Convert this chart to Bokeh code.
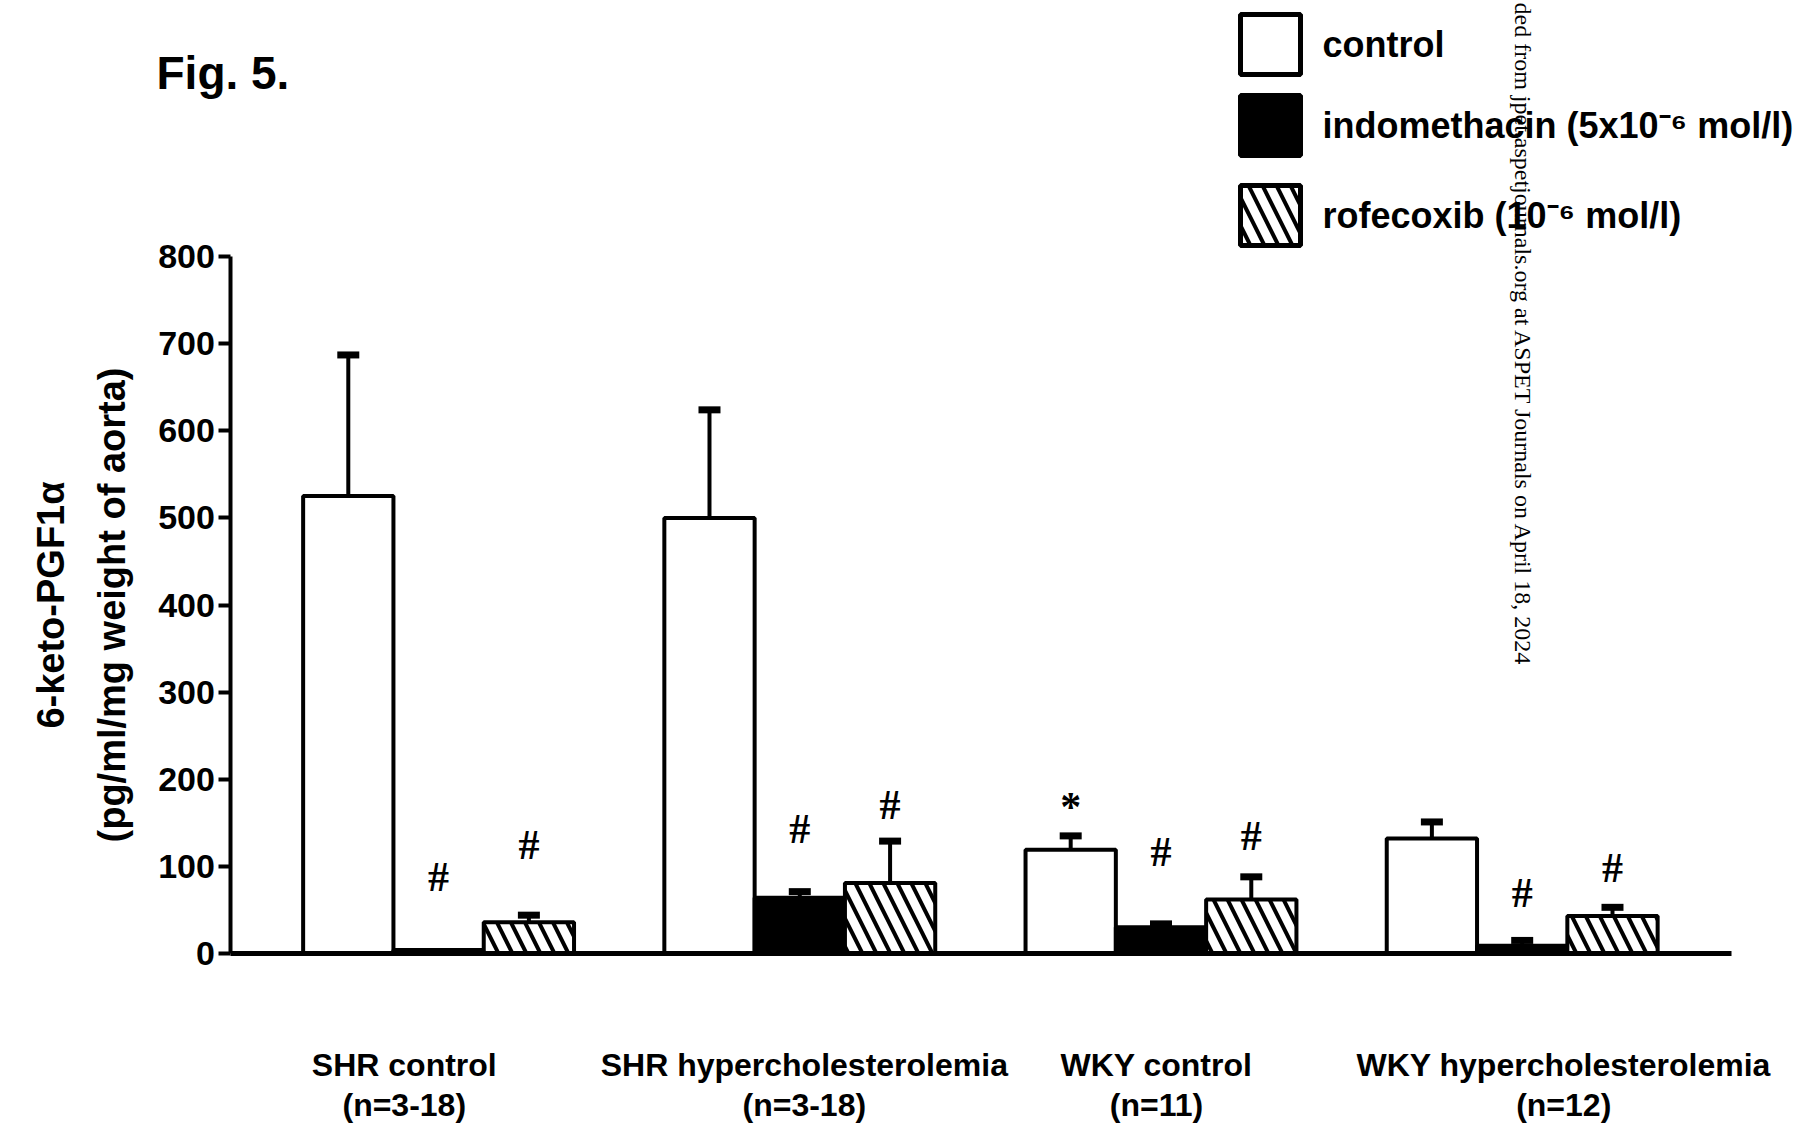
import math
from bokeh.plotting import figure
from bokeh.models import ColumnDataSource, Range1d, FixedTicker, Whisker, TeeHead
from bokeh.core.properties import value
from bokeh.embed import file_html
from bokeh.resources import INLINE

# ---------------- data ----------------
groups = ["SHR control", "SHR hypercholesterolemia", "WKY control", "WKY hypercholesterolemia"]
group_n = ["(n=3-18)", "(n=3-18)", "(n=11)", "(n=12)"]
series = ["control", "indomethacin (5x10⁻⁶ mol/l)", "rofecoxib (10⁻⁶ mol/l)"]

control_mean = [525, 500, 119, 132]
control_sem = [162, 124, 16, 19]
indo_mean = [4, 64, 30, 9]
indo_sem = [0, 7, 4, 6]
rofe_mean = [36, 81, 62, 43]
rofe_sem = [8, 48, 26, 10]

# significance marks: (group index, series index, symbol, height of mark)
sig_group = [0, 0, 1, 1, 2, 2, 2, 3, 3]
sig_series = [1, 2, 1, 2, 0, 1, 2, 1, 2]
sig_text = ["#", "#", "#", "#", "*", "#", "#", "#", "#"]
sig_y = [88, 124, 143, 170, 168, 116, 135, 70, 98]

y_ticks = [0, 100, 200, 300, 400, 500, 600, 700, 800]

watermark = "ded from jpet.aspetjournals.org at ASPET Journals on April 18, 2024"

# ---------------- layout helpers ----------------
W, H = 1816, 1132
X0_PX = 230.4          # screen x of the value axis
PX_PER_X = 90.3        # one bar width in pixels
Y0_PX = 953.0          # screen y of value 0
PX_PER_Y = 697.0 / 800.0


def xd(px):
    return (px - X0_PX) / PX_PER_X


def yd(py):
    return (Y0_PX - py) / PX_PER_Y


FIRST = 0.8      # left edge of first bar (in bar widths)
GROUP_STEP = 4   # group spacing (in bar widths)


def bar_x(g, s):
    return FIRST + GROUP_STEP * g + s + 0.5


FONT = value("Liberation Sans")

p = figure(width=W, height=H, output_backend="svg", toolbar_location=None, tools="",
           x_range=Range1d(xd(0), xd(W)), y_range=Range1d(yd(H), yd(0)),
           min_border=0, min_border_left=0, min_border_right=0,
           min_border_top=0, min_border_bottom=0)
p.outline_line_color = None
p.grid.visible = False
p.background_fill_color = "white"
p.border_fill_color = "white"

# ---------------- axes ----------------
ya = p.yaxis[0]
ya.fixed_location = 0
ya.bounds = (0, 800)
ya.ticker = FixedTicker(ticks=y_ticks)
ya.axis_line_width = 4
ya.axis_line_color = "black"
ya.major_tick_line_width = 4
ya.major_tick_out = 12
ya.major_tick_in = 0
ya.minor_tick_line_color = None
ya.major_label_standoff = 4
ya.major_label_text_font = "Liberation Sans"
ya.major_label_text_font_style = "bold"
ya.major_label_text_font_size = "34px"
ya.major_label_text_color = "black"
ya.axis_label = "6-keto-PGF1α\n(pg/ml/mg weight of aorta)"
ya.axis_label_text_font = "Liberation Sans"
ya.axis_label_text_font_style = "bold"
ya.axis_label_text_font_size = "38px"
ya.axis_label_text_color = "black"
ya.axis_label_text_line_height = 1.45
ya.axis_label_standoff = 22

xa = p.xaxis[0]
xa.fixed_location = 0
xa.bounds = (0, xd(1731))
xa.ticker = FixedTicker(ticks=[])
xa.axis_line_width = 5
xa.axis_line_color = "black"
xa.major_tick_line_color = None
xa.minor_tick_line_color = None

# ---------------- bars ----------------
means = [control_mean, indo_mean, rofe_mean]
sems = [control_sem, indo_sem, rofe_sem]
fills = ["white", "black", "white"]
hatches = [None, None, "\\"]
HATCH = dict(hatch_color="black", hatch_weight=4, hatch_scale=28)

wb, wl, wu = [], [], []
for s in range(3):
    xs = [bar_x(g, s) for g in range(len(groups))]
    src = ColumnDataSource(dict(x=xs, top=means[s]))
    kw = dict(x="x", top="top", bottom=0, width=1.0, source=src,
              fill_color=fills[s], line_color="black", line_width=4)
    if hatches[s]:
        kw.update(hatch_pattern=hatches[s], **HATCH)
    p.vbar(**kw)
    for g in range(len(groups)):
        if sems[s][g] > 0:
            wb.append(bar_x(g, s))
            wl.append(means[s][g])
            wu.append(means[s][g] + sems[s][g])

wsrc = ColumnDataSource(dict(base=wb, lower=wl, upper=wu))
p.add_layout(Whisker(base="base", lower="lower", upper="upper", source=wsrc,
                     dimension="height", line_width=4, line_color="black",
                     lower_head=None,
                     upper_head=TeeHead(size=22, line_width=7, line_color="black")))

# significance marks
p.text(x=[bar_x(g, s) for g, s in zip(sig_group, sig_series)], y=sig_y, text=sig_text,
       text_font=value("Liberation Serif"), text_font_style="bold", text_font_size="42px",
       text_align="center", text_baseline="middle", text_color="black")

# group labels
label_x = [1.92, 6.35, 10.25, 14.76]
p.text(x=label_x, y=[yd(1064)] * 4, text=groups, text_font=FONT, text_font_style="bold",
       text_font_size="32px", text_align="center", text_baseline="middle", text_color="black")
p.text(x=label_x, y=[yd(1104)] * 4, text=group_n, text_font=FONT, text_font_style="bold",
       text_font_size="32px", text_align="center", text_baseline="middle", text_color="black")

# ---------------- legend ----------------
box_top_px = [14, 95, 185]
box_h_px = 60
for s in range(3):
    kw = dict(left=[xd(1240)], right=[xd(1300)], top=[yd(box_top_px[s])],
              bottom=[yd(box_top_px[s] + box_h_px)], fill_color=fills[s],
              line_color="black", line_width=5)
    if hatches[s]:
        kw.update(hatch_pattern=hatches[s], **HATCH)
    p.quad(**kw)
p.text(x=[xd(1322)] * 3, y=[yd(t + box_h_px / 2) for t in box_top_px], text=series,
       text_font=FONT, text_font_style="bold", text_font_size="36px",
       text_align="left", text_baseline="middle", text_color="black")

# figure title
p.text(x=[xd(156)], y=[yd(72)], text=["Fig. 5."], text_font=FONT, text_font_style="bold",
       text_font_size="46px", text_align="left", text_baseline="middle", text_color="black")

# watermark (vertical, reading top to bottom)
p.text(x=[xd(1522)], y=[yd(2)], text=[watermark],
       angle=-math.pi / 2, text_font=value("Liberation Serif"), text_font_size="24px",
       text_align="left", text_baseline="middle", text_color="black")

open("out.html", "w").write(file_html(p, INLINE))
